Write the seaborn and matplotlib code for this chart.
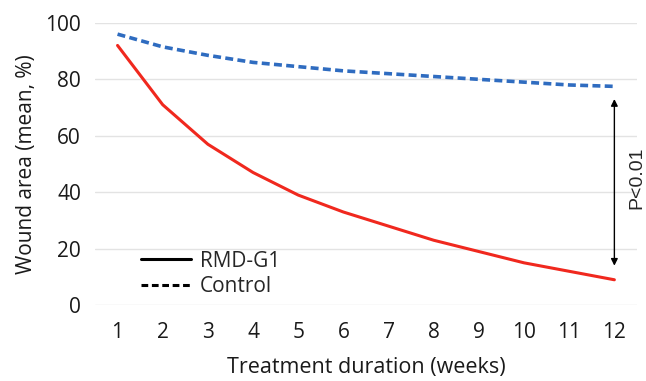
import pandas as pd
import matplotlib.pyplot as plt
import seaborn as sns

# valores
weeks = [1, 2, 3, 4, 5, 6, 7, 8, 9, 10, 11, 12]
rmd_g1 = [92, 71, 57, 47, 39, 33, 28, 23, 19, 15, 12, 9]
control = [96, 91.5, 88.5, 86, 84.5, 83, 82, 81, 80, 79, 78, 77.5]

df = pd.DataFrame({'week': weeks * 2,
                   'area': rmd_g1 + control,
                   'group': ['RMD-G1'] * 12 + ['Control'] * 12})

sns.set_style('white')
plt.rcParams['font.family'] = ['Open Sans', 'DejaVu Sans']

fig = plt.figure(figsize=(6.46, 3.81), dpi=100)
ax = fig.add_axes([0.147, 0.199, 0.839, 0.741])

sns.lineplot(data=df[df.group == 'RMD-G1'], x='week', y='area', color='#f0281e', lw=2.2, ax=ax)
sns.lineplot(data=df[df.group == 'Control'], x='week', y='area', color='#2f6cc0', lw=2.6,
             linestyle=(0, (2.2, 1.2)), ax=ax)

ax.set_xlim(0.5, 12.5)
ax.set_ylim(0, 100)
ax.set_xticks(weeks)
ax.set_yticks([0, 20, 40, 60, 80, 100])
ax.yaxis.grid(True, color='#e3e3e3', lw=1)
sns.despine(left=True, bottom=True)
ax.tick_params(axis='both', length=0, labelsize=15, colors='#1a1a1a')
ax.tick_params(axis='x', pad=12)
ax.tick_params(axis='y', pad=10)
ax.set_xlabel('Treatment duration (weeks)', fontsize=15.5, labelpad=10, color='#1a1a1a')
ax.set_ylabel('Wound area (mean, %)', fontsize=15, labelpad=6, color='#1a1a1a')

# legenda com linhas pretas
h1, = ax.plot([], [], color='black', lw=2.2)
h2, = ax.plot([], [], color='black', lw=2.2, linestyle=(0, (2.2, 1.2)))
ax.legend([h1, h2], ['RMD-G1', 'Control'], loc='lower left', bbox_to_anchor=(0.07, 0.0),
          frameon=False, fontsize=15, handlelength=2.4, handletextpad=0.4,
          labelspacing=0.2, borderaxespad=0.0)

# seta de significância
ax.annotate('', xy=(12, 74), xytext=(12, 13),
            arrowprops=dict(arrowstyle='<|-|>', color='black', lw=1, mutation_scale=10))
ax.text(12.5, 45, 'P<0.01', rotation=90, ha='center', va='center', fontsize=14,
        family=['Liberation Sans', 'DejaVu Sans'])

fig.savefig('out.png', dpi=100)
